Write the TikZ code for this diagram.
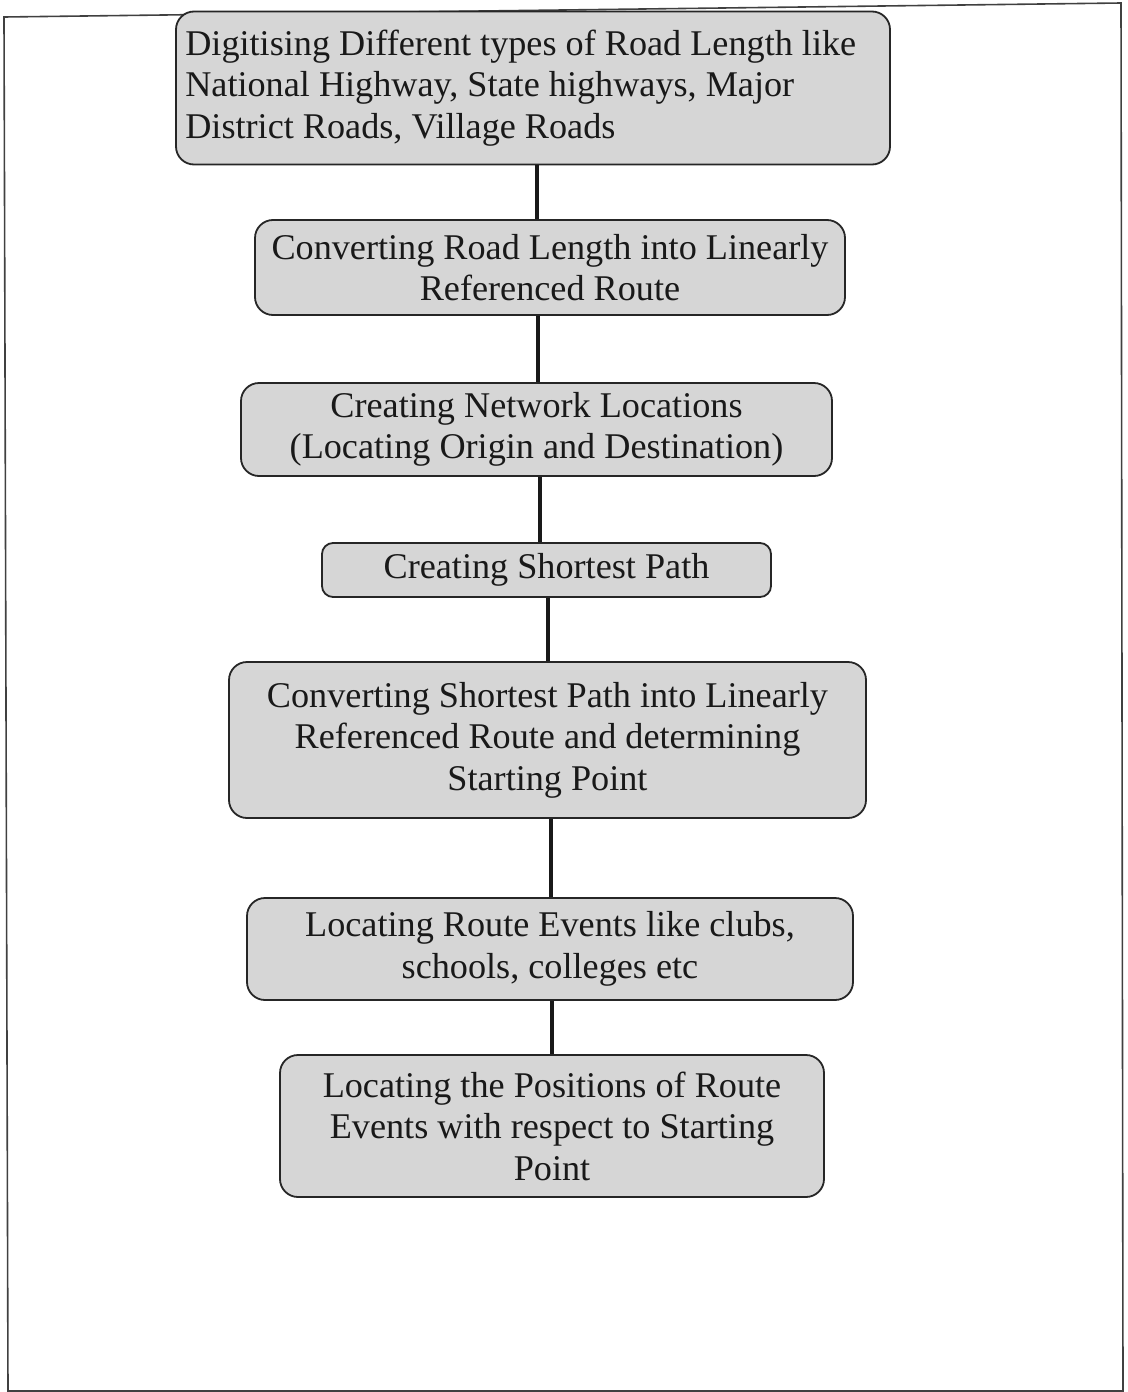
\documentclass[tikz,border=0pt]{standalone}
\usepackage{fontspec}
\setmainfont{Liberation Serif}
\begin{document}
\begin{tikzpicture}[x=1pt,y=-1pt,
  steptext/.style={inner sep=0pt, align=center,
    font=\fontsize{36.2}{41.5}\selectfont, text=black!90},
  stepbox/.style={steptext, draw=black!85, line width=1.8pt, fill=black!16,
    rounded corners=18pt},
  link/.style={draw=black!90, line width=4pt}]
\useasboundingbox (0,0) rectangle (1127,1392);
% outer frame
\draw[black!75, line width=1.6pt] (4,17) -- (1121,3) -- (1123,1391) -- (8,1391) -- cycle;

% process steps
\node[stepbox, minimum width=714pt, minimum height=153pt] (b1) at (533,88) {};
\node[steptext, align=left, anchor=west] (t1) at ([xshift=10pt]b1.west)
  {Digitising Different types of Road Length like\\National Highway, State highways, Major\\District Roads, Village Roads};
\node[stepbox, minimum width=590pt, minimum height=95pt] (b2) at (550,267.5)
  {Converting Road Length into Linearly\\Referenced Route};
\node[stepbox, minimum width=591pt, minimum height=93pt] (b3) at (536.5,429.5)
  {Creating Network Locations\\(Locating Origin and Destination)};
\node[stepbox, minimum width=449pt, minimum height=54pt, rounded corners=11pt] (b4) at (546.5,570)
  {Creating Shortest Path};
\node[stepbox, minimum width=637pt, minimum height=156pt] (b5) at (547.5,740)
  {Converting Shortest Path into Linearly\\Referenced Route and determining\\Starting Point};
\node[stepbox, minimum width=606pt, minimum height=102pt] (b6) at (550,949)
  {Locating Route Events like clubs,\\schools, colleges etc};
\node[stepbox, minimum width=544pt, minimum height=142pt] (b7) at (552,1126)
  {Locating the Positions of Route\\Events with respect to Starting\\Point};

% connectors
\draw[link] (b1.south -| 537,0) -- (b2.north -| 537,0);
\draw[link] (b2.south -| 538,0) -- (b3.north -| 538,0);
\draw[link] (b3.south -| 540,0) -- (b4.north -| 540,0);
\draw[link] (b4.south -| 548,0) -- (b5.north -| 548,0);
\draw[link] (b5.south -| 551,0) -- (b6.north -| 551,0);
\draw[link] (b6.south -| 552,0) -- (b7.north -| 552,0);
\end{tikzpicture}
\end{document}
